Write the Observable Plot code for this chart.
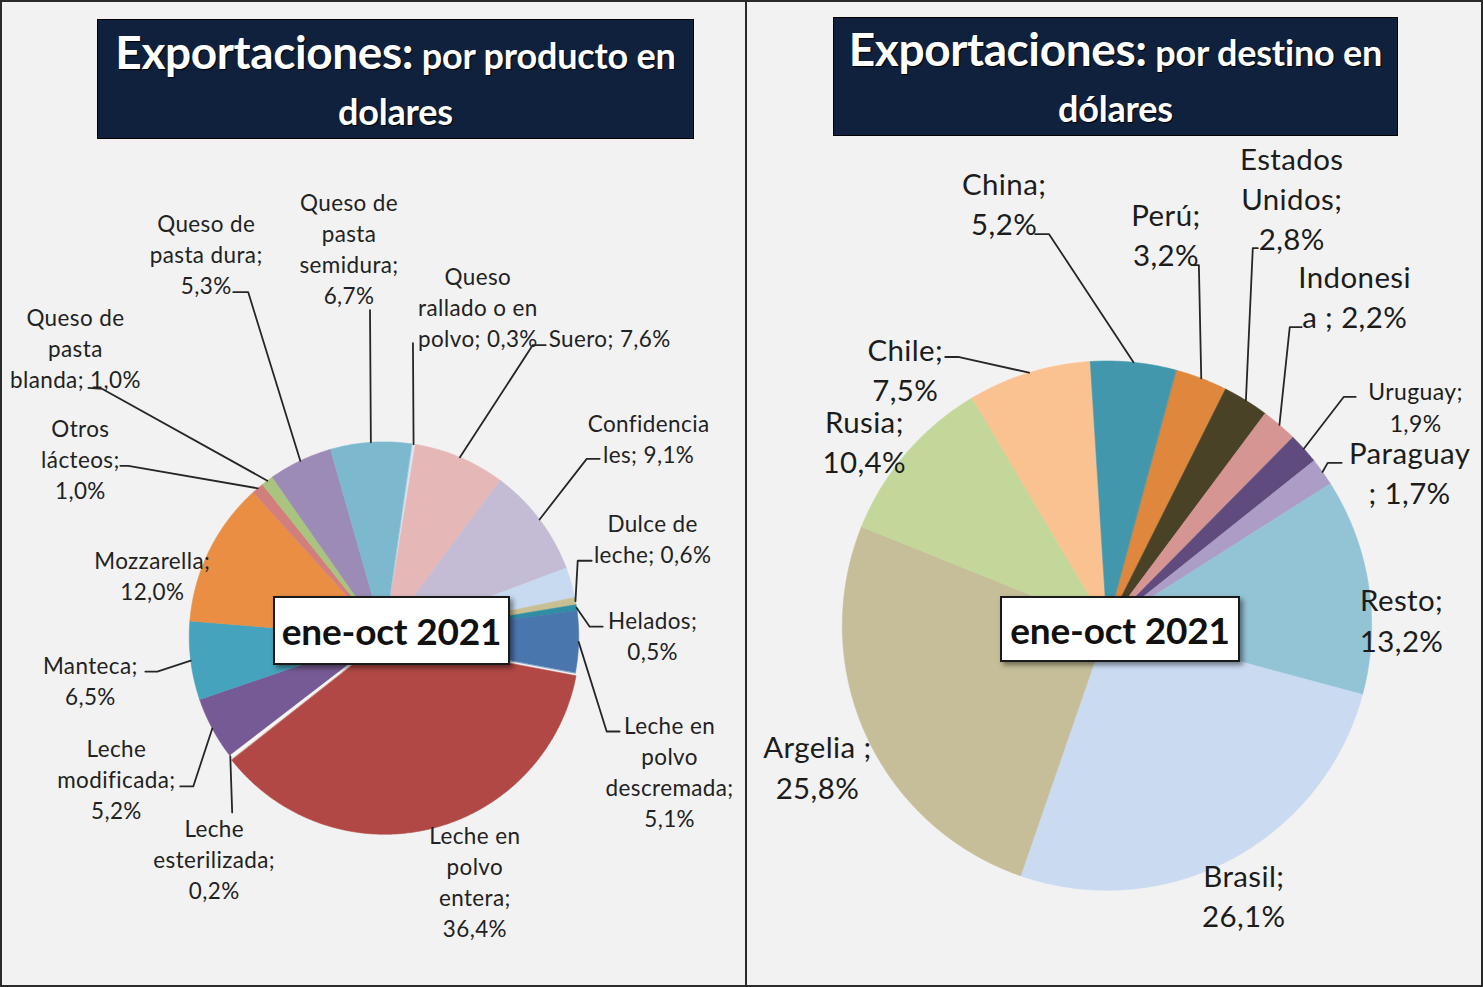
<!DOCTYPE html>
<html>
<head>
<meta charset="utf-8">
<script src="https://cdn.jsdelivr.net/npm/d3@7"></script>
<script src="https://cdn.jsdelivr.net/npm/@observablehq/plot@0.6"></script>
<style>
  html, body { margin: 0; padding: 0; background: #ffffff; }
  #frame { position: relative; width: 1483px; height: 987px; background: #f2f2f2;
           box-sizing: border-box; border: 2px solid #2a2a2a; overflow: hidden; font-family: Lato, sans-serif; }
  #chart { position: absolute; left: -2px; top: -2px; }
  #chart text { letter-spacing: 0.4px; }
  .divider { position: absolute; left: 743px; top: 0; width: 2px; height: 100%; background: #2a2a2a; }
  .title { position: absolute; background: #10213e; border: 1px solid #000; color: #fff;
           font-weight: 700; text-align: center; display: flex; flex-direction: column;
           justify-content: center; text-shadow: 1px 1px 1px #000; box-sizing: border-box; }
  .title .big { font-size: 46px; letter-spacing: -0.4px; }
  .title .small { font-size: 36px; letter-spacing: -0.2px; }
  .title .l1 { line-height: 54px; }
  .title .l2 { line-height: 42px; margin-bottom: 2px; }
  .period { position: absolute; background: #fff; border: 2px solid #1a1a1a; box-sizing: border-box;
            box-shadow: 3px 3px 5px rgba(0,0,0,0.45); font-weight: 700; font-size: 37px; color: #111;
            display: flex; align-items: center; justify-content: center; letter-spacing: -0.2px; }
</style>
</head>
<body>
<div id="frame">
  <div id="chart"></div>
  <div class="divider"></div>
  <div class="title" style="left:95px; top:17px; width:597px; height:120px;">
    <div class="l1"><span class="big">Exportaciones:</span><span class="small"> por producto en</span></div>
    <div class="l2 small">dolares</div>
  </div>
  <div class="title" style="left:831px; top:15px; width:565px; height:119px;">
    <div class="l1"><span class="big">Exportaciones:</span><span class="small"> por destino en</span></div>
    <div class="l2 small">dólares</div>
  </div>
  <div class="period" style="left:271px; top:594px; width:237px; height:69px;">ene-oct 2021</div>
  <div class="period" style="left:998px; top:594px; width:240px; height:66px;">ene-oct 2021</div>
</div>
<script>
// ---------------- DATA ----------------
// Exportaciones por producto (% en dólares), ene-oct 2021
const productos = [
  "Queso rallado o en polvo", "Suero", "Confidenciales", "Crema", "Dulce de leche", "Helados",
  "Leche en polvo descremada", "Leche en polvo entera", "Leche esterilizada", "Leche modificada",
  "Manteca", "Mozzarella", "Otros lácteos", "Queso de pasta blanda", "Queso de pasta dura",
  "Queso de pasta semidura"
];
const productoValores = [0.3, 7.6, 9.1, 2.5, 0.6, 0.5, 5.1, 36.4, 0.2, 5.2, 6.5, 12.0, 1.0, 1.0, 5.3, 6.7];
const productoColores = [
  "#dce6f2", "#e5b8b7", "#c3bcd4", "#c8daf0", "#c8bf92", "#2f8ea3",
  "#4a76ae", "#b24845", "#f7f7f7", "#765a95",
  "#46a3bd", "#e98e43", "#d17f7d", "#a9c47f", "#9c8bb6", "#7cb9cf"
];
// label texts (%v = value); null = no label
const productoRotulos = [
  "Queso\nrallado o en\npolvo; %v", "Suero; %v", "Confidencia\nles; %v", null, "Dulce de\nleche; %v", "Helados;\n%v",
  "Leche en\npolvo\ndescremada;\n%v", "Leche en\npolvo\nentera;\n%v", "Leche\nesterilizada;\n%v", "Leche\nmodificada;\n%v",
  "Manteca;\n%v", "Mozzarella;\n%v", "Otros\nlácteos;\n%v", "Queso de\npasta\nblanda; %v", "Queso de\npasta dura;\n%v",
  "Queso de\npasta\nsemidura;\n%v"
];

// Exportaciones por destino (% en dólares), ene-oct 2021
const destinos = ["Perú", "Estados Unidos", "Indonesia", "Uruguay", "Paraguay", "Resto", "Brasil", "Argelia", "Rusia", "Chile", "China"];
const destinoValores = [3.2, 2.8, 2.2, 1.9, 1.7, 13.2, 26.1, 25.8, 10.4, 7.5, 5.2];
const destinoColores = ["#de873d", "#4a4227", "#d59593", "#5f4b7d", "#ac9dc6", "#93c4d6", "#c9daf1", "#c5be98", "#c4d79b", "#fac191", "#4297ad"];
const destinoRotulos = [
  "Perú;\n%v", "Estados\nUnidos;\n%v", "Indonesi\na ; %v", "Uruguay;\n%v", "Paraguay\n; %v", "Resto;\n%v",
  "Brasil;\n%v", "Argelia ;\n%v", "Rusia;\n%v", "Chile;\n%v", "China;\n%v"
];

// ---------------- LAYOUT ----------------
const W = 1483, H = 987;
const leftPie = {cx: 384, cy: 637, r: 195, start: 8.2, explode: {"Leche en polvo entera": 3}};
const rightPie = {cx: 1108, cy: 626, r: 265, start: 15.1, explode: {}};
const leftLayout = {
  "Queso rallado o en polvo": {lx: 478, ly: 306, elbow: [413, 343]},
  "Suero": {lx: 610, ly: 337, elbow: [533, 345], tail: [546, 345]},
  "Confidenciales": {lx: 649, ly: 438, elbow: [587, 459], tail: [600, 459]},
  "Dulce de leche": {lx: 653, ly: 538, elbow: [578, 561], tail: [592, 561]},
  "Helados": {lx: 653, ly: 635, elbow: [590, 627], tail: [603, 627]},
  "Leche en polvo descremada": {lx: 670, ly: 771, elbow: [607, 732], tail: [620, 732]},
  "Leche en polvo entera": {lx: 475, ly: 881},
  "Leche esterilizada": {lx: 214, ly: 859, elbow: [232, 813]},
  "Leche modificada": {lx: 116, ly: 779, elbow: [193, 787], tail: [180, 787]},
  "Manteca": {lx: 90, ly: 680, elbow: [157, 672], tail: [145, 672]},
  "Mozzarella": {lx: 152, ly: 575},
  "Otros lácteos": {lx: 80, ly: 458, elbow: [128, 466], tail: [120, 466]},
  "Queso de pasta blanda": {lx: 75, ly: 347, elbow: [102, 389], tail: [88, 388]},
  "Queso de pasta dura": {lx: 206, ly: 253, elbow: [248, 292], tail: [233, 292]},
  "Queso de pasta semidura": {lx: 349, ly: 247, elbow: [370, 310]}
};
const rightLayout = {
  "Perú": {lx: 1167, ly: 233, elbow: [1200, 265], tail: [1196, 265]},
  "Estados Unidos": {lx: 1293, ly: 197, elbow: [1254, 248], tail: [1259, 248]},
  "Indonesia": {lx: 1356, ly: 295, elbow: [1291, 327], tail: [1303, 327]},
  "Uruguay": {lx: 1417, ly: 406, elbow: [1345, 397], tail: [1357, 397], small: true},
  "Paraguay": {lx: 1411, ly: 471, elbow: [1329, 463], tail: [1343, 463]},
  "Resto": {lx: 1403, ly: 619},
  "Brasil": {lx: 1245, ly: 895},
  "Argelia": {lx: 818, ly: 766},
  "Rusia": {lx: 865, ly: 440},
  "Chile": {lx: 906, ly: 368, elbow: [960, 357], tail: [946, 357]},
  "China": {lx: 1005, ly: 202, elbow: [1050, 234], tail: [1036, 234]}
};

// ---------------- BUILD ----------------
const fmt = v => d3.format(".1f")(v).replace(".", ",") + "%";

function buildPie(names, values, colors, rotulos, pie, layout, side) {
  const a0 = pie.start * Math.PI / 180;
  const arcs = d3.pie().value(d => d).sort(null).startAngle(a0).endAngle(a0 + 2 * Math.PI)(values);
  const slicePts = [], leaders = [], labels = [];
  arcs.forEach((a, i) => {
    const key = names[i], color = colors[i];
    const mid = (a.startAngle + a.endAngle) / 2;
    const off = pie.explode[key] || 0;
    const cx = pie.cx + off * Math.sin(mid), cy = pie.cy - off * Math.cos(mid);
    slicePts.push({key, color, x: cx, y: cy});
    const n = Math.max(2, Math.ceil((a.endAngle - a.startAngle) / 0.008));
    for (let k = 0; k <= n; k++) {
      const t = a.startAngle + (a.endAngle - a.startAngle) * k / n;
      slicePts.push({key, color, x: cx + pie.r * Math.sin(t), y: cy - pie.r * Math.cos(t)});
    }
    const lay = layout[key];
    if (!lay || rotulos[i] == null) return;
    labels.push({key, side, small: !!lay.small, x: lay.lx, y: lay.ly, text: rotulos[i].replace("%v", fmt(values[i]))});
    if (lay.elbow) {
      const ex = cx + pie.r * Math.sin(mid), ey = cy - pie.r * Math.cos(mid);
      leaders.push({key, x: ex, y: ey});
      leaders.push({key, x: lay.elbow[0], y: lay.elbow[1]});
      if (lay.tail) leaders.push({key, x: lay.tail[0], y: lay.tail[1]});
    }
  });
  return {slicePts, leaders, labels};
}

const L = buildPie(productos, productoValores, productoColores, productoRotulos, leftPie, leftLayout, "left");
const R = buildPie(destinos, destinoValores, destinoColores, destinoRotulos, rightPie, rightLayout, "right");
const slicePts = [...L.slicePts, ...R.slicePts];
const leaders = [...L.leaders, ...R.leaders];
const labels = [...L.labels, ...R.labels];

const chart = Plot.plot({
  width: W, height: H, margin: 0,
  x: {domain: [0, W], range: [0, W], axis: null},
  y: {domain: [0, H], range: [0, H], axis: null},
  color: {type: "identity"},
  style: {background: "transparent", fontFamily: "Lato, sans-serif", overflow: "visible"},
  marks: [
    Plot.line(slicePts, {x: "x", y: "y", z: "key", fill: "color", stroke: "color", strokeWidth: 0.6, curve: "linear-closed"}),
    Plot.line(leaders, {x: "x", y: "y", z: "key", stroke: "#262626", strokeWidth: 1.8}),
    Plot.text(labels.filter(d => d.side === "left"), {
      x: "x", y: "y", text: "text", fontSize: 22.5, lineHeight: 1.38, fill: "#222", textAnchor: "middle", lineAnchor: "middle"
    }),
    Plot.text(labels.filter(d => d.side === "right" && !d.small), {
      x: "x", y: "y", text: "text", fontSize: 29.5, lineHeight: 1.37, fill: "#1c1c1c", textAnchor: "middle", lineAnchor: "middle"
    }),
    Plot.text(labels.filter(d => d.side === "right" && d.small), {
      x: "x", y: "y", text: "text", fontSize: 23, lineHeight: 1.39, fill: "#1c1c1c", textAnchor: "middle", lineAnchor: "middle"
    })
  ]
});
document.getElementById("chart").appendChild(chart);
</script>
</body>
</html>
